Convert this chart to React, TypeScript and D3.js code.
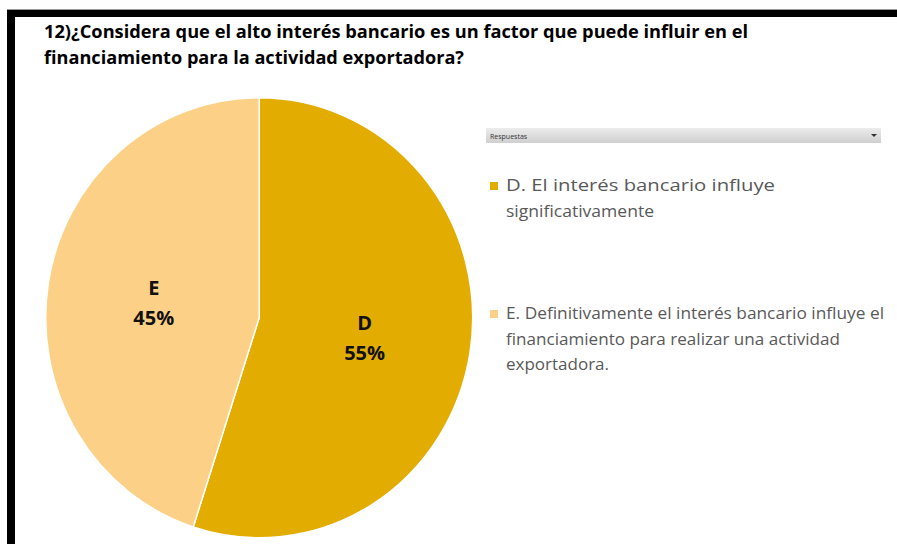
import React, { useEffect, useRef } from "react";
import * as d3 from "d3";

const categories = ["D", "E"];
const shares = [55, 45];
const legendLines = [
  ["D. El interés bancario influye", "significativamente"],
  ["E. Definitivamente el interés bancario influye el", "financiamiento para realizar una actividad", "exportadora."],
];
// approximate rendered widths of each legend line in the picture
const legendWidths = [
  [269, 148],
  [378, 334, 103],
];
const titleLines = [
  "12)¿Considera que el alto interés bancario es un factor que puede influir en el",
  "financiamiento para la actividad exportadora?",
];
const colors = ["#E2AC00", "#FDD088"];

const W = 897;
const H = 544;

const App = () => {
  const svgRef = useRef<SVGSVGElement>(null);

  useEffect(() => {
    const svg = d3.select(svgRef.current);
    svg.selectAll("*").remove();

    // frame
    svg.append("rect").attr("x", 0).attr("y", 0).attr("width", W).attr("height", H).attr("fill", "#fff");
    svg.append("rect").attr("x", 7).attr("y", 9).attr("width", W - 7).attr("height", 1).attr("fill", "#999");
    svg.append("rect").attr("x", 7).attr("y", 10).attr("width", W - 7).attr("height", 7).attr("fill", "#000");
    svg.append("rect").attr("x", 7).attr("y", 10).attr("width", 8).attr("height", H - 10).attr("fill", "#000");

    // title
    svg
      .append("g")
      .selectAll("text")
      .data(titleLines)
      .join("text")
      .attr("x", 44)
      .attr("y", (d, i) => 38 + i * 26)
      .attr("font-family", "'Open Sans', sans-serif")
      .attr("font-weight", "bold")
      .attr("font-size", 17)
      .attr("fill", "#000")
      .attr("textLength", (d, i) => (i === 0 ? 704 : 420))
      .attr("lengthAdjust", "spacingAndGlyphs")
      .text((d) => d);

    // pie
    const rx = 213.5;
    const ry = 220;
    const k = ry / rx;
    const data = categories.map((c, i) => ({ cat: c, value: shares[i], color: colors[i] }));
    const pie = d3.pie<any>().value((d) => d.value).sort(null);
    const arcs = pie(data);
    const arc = d3.arc<any>().innerRadius(0).outerRadius(rx);
    const g = svg.append("g").attr("transform", `translate(259.2,317.7) scale(1,${k})`);
    g.selectAll("path")
      .data(arcs)
      .join("path")
      .attr("d", arc)
      .attr("fill", (d) => d.data.color)
      .attr("stroke", "#fff")
      .attr("stroke-width", 1.5)
      .attr("vector-effect", "non-scaling-stroke");

    const labelArc = d3.arc<any>().innerRadius(rx * 0.5).outerRadius(rx * 0.5);
    const lg = svg.append("g").attr("transform", "translate(259.2,317.7)");
    arcs.forEach((a) => {
      const [x, y] = labelArc.centroid(a);
      const t = lg
        .append("text")
        .attr("text-anchor", "middle")
        .attr("font-family", "'Open Sans', sans-serif")
        .attr("font-weight", "bold")
        .attr("font-size", 20)
        .attr("fill", "#111");
      t.append("tspan").attr("x", x).attr("y", y * k - 5).text(a.data.cat);
      t.append("tspan").attr("x", x).attr("y", y * k + 25).text(a.data.value + "%");
    });

    // legend header
    const grad = svg.append("defs").append("linearGradient").attr("id", "hdr").attr("x1", 0).attr("y1", 0).attr("x2", 0).attr("y2", 1);
    grad.append("stop").attr("offset", "0%").attr("stop-color", "#ececec");
    grad.append("stop").attr("offset", "100%").attr("stop-color", "#cfcfcf");
    svg.append("rect").attr("x", 486).attr("y", 128).attr("width", 395).attr("height", 15).attr("fill", "url(#hdr)");
    svg
      .append("text")
      .attr("x", 490)
      .attr("y", 139)
      .attr("font-family", "'Open Sans', sans-serif")
      .attr("font-size", 7)
      .attr("fill", "#333")
      .text("Respuestas");
    svg.append("path").attr("d", "M871,134 L877,134 L874,137 Z").attr("fill", "#333");

    // legend items
    const legendTop = [191, 319];
    legendLines.forEach((lines, i) => {
      svg
        .append("rect")
        .attr("x", 490)
        .attr("y", legendTop[i] - 9)
        .attr("width", 8)
        .attr("height", 8)
        .attr("fill", colors[i]);
      svg
        .append("g")
        .selectAll("text")
        .data(lines)
        .join("text")
        .attr("x", 506)
        .attr("y", (d, j) => legendTop[i] + j * 25.5)
        .attr("font-family", "'Open Sans', sans-serif")
        .attr("font-size", 17)
        .attr("fill", "#595959")
        .attr("textLength", (d, j) => legendWidths[i][j])
        .attr("lengthAdjust", "spacingAndGlyphs")
        .text((d) => d);
    });
  }, []);

  return (
    <div style={{ position: "fixed", left: 0, top: 0 }}>
      <svg ref={svgRef} width={W} height={H} style={{ display: "block" }} />
    </div>
  );
};

export default App;
